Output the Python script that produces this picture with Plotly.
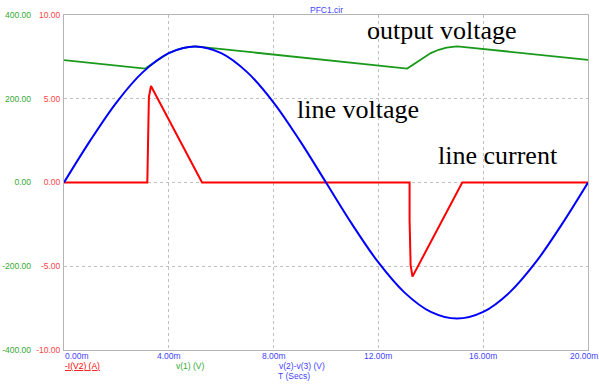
import plotly.graph_objects as go

# ---- data (time in ms) ----
t_line = [0, 1, 2, 3, 4, 5, 6, 7, 8, 9, 10, 11, 12, 13, 14, 15, 16, 17, 18, 19, 20]
v_line = [0, 100, 191, 263, 309, 325, 309, 263, 191, 100, 0, -100, -191, -263, -309, -325, -309, -263, -191, -100, 0]

t_out = [0, 3.1, 3.4, 3.7, 4.0, 4.3, 4.6, 5.0, 5.2, 13.1, 13.4, 13.7, 14.0, 14.3, 14.6, 15.0, 15.2, 20]
v_out = [292, 272, 285, 298, 309, 317, 322, 325, 324, 272, 285, 298, 309, 317, 322, 325, 324, 293]

t_cur = [0, 3.18, 3.19, 3.24, 3.32, 5.27, 13.19, 13.19, 13.23, 13.30, 15.2, 20]
i_cur = [0, 0, 0.86, 5.1, 5.76, 0, 0, -2.24, -4.93, -5.62, 0, 0]

x_ticks = [0, 4, 8, 12, 16, 20]
x_ticktext = ["0.00m", "4.00m", "8.00m", "12.00m", "16.00m", "20.00m"]
i_ticks = [-10, -5, 0, 5, 10]
i_ticktext = ["-10.00", "-5.00", "0.00", "5.00", "10.00"]
v_ticks = [-400, -200, 0, 200, 400]
v_ticktext = ["-400.00", "-200.00", "0.00", "200.00", "400.00"]

# ---- layout geometry ----
W, H = 599, 385
L, R, T, B = 64, 588, 15, 350


def xp(px):
    return (px - L) / (R - L)


def yp(py):
    return (B - py) / (B - T)


GREEN = "#1a9a1a"
BLUE = "#0000ff"
RED = "#ff0000"
SMALL = dict(family="Liberation Sans, Arial", size=8.5)

fig = go.Figure()
fig.add_trace(go.Scatter(x=t_out, y=v_out, yaxis="y2", mode="lines",
                         line=dict(color=GREEN, width=1.8), showlegend=False))
fig.add_trace(go.Scatter(x=t_cur, y=i_cur, yaxis="y", mode="lines",
                         line=dict(color=RED, width=2), showlegend=False))
fig.add_trace(go.Scatter(x=t_line, y=v_line, yaxis="y2", mode="lines",
                         line=dict(color=BLUE, width=2, shape="spline"), showlegend=False))

ann = []
for v, txt in zip(x_ticks, x_ticktext):
    if v == x_ticks[0]:
        pos = dict(x=v, xref="x", xanchor="left")
    elif v == x_ticks[-1]:
        pos = dict(x=xp(599), xref="paper", xanchor="right")
    else:
        pos = dict(x=v, xref="x", xanchor="center")
    ann.append(dict(pos, y=yp(356), yref="paper", text=txt, showarrow=False,
                    yanchor="middle", borderpad=0, font=dict(SMALL, color="#4444ff")))

bottom_labels = [
    ("<u>-I(V2) (A)</u>", 63, 366.5, RED),
    ("v(1) (V)", 174, 366, "#33aa33"),
    ("v(2)-v(3) (V)", 277, 366, "#4444ff"),
    ("T (Secs)", 276, 375.5, "#4444ff"),
]
for txt, x0, y0, c in bottom_labels:
    ann.append(dict(x=xp(x0), xref="paper", y=yp(y0), yref="paper", text=txt, showarrow=False,
                    xanchor="left", yanchor="middle", font=dict(SMALL, color=c)))

ann.append(dict(x=xp(326), xref="paper", y=yp(9.5), yref="paper", text="PFC1.cir", showarrow=False,
                xanchor="center", yanchor="middle", font=dict(SMALL, color="#4444ff")))

SERIF = dict(family="Liberation Serif, Times New Roman", size=26, color="black")
for txt, x0, y0 in [("output voltage", 366, 30), ("line voltage", 296, 109), ("line current", 437, 155)]:
    ann.append(dict(x=xp(x0), xref="paper", y=yp(y0), yref="paper", text=txt, showarrow=False,
                    xanchor="left", yanchor="middle", font=SERIF, borderpad=0))

fig.update_layout(
    template="none",
    width=W, height=H,
    margin=dict(l=L, r=W - R, t=T, b=H - B, pad=0),
    paper_bgcolor="white", plot_bgcolor="white",
    showlegend=False,
    annotations=ann,
    xaxis=dict(range=[0, 20], tickvals=x_ticks[1:-1], showticklabels=False, ticks="",
               showgrid=True, gridcolor="#c0c0c0", griddash="dot", gridwidth=1,
               showline=True, mirror=True, linecolor="#b4b4b4", linewidth=1,
               zeroline=False, automargin=False),
    yaxis=dict(range=[-10, 10], tickvals=i_ticks, ticktext=i_ticktext, ticks="",
               tickfont=dict(SMALL, color="#ff4444"), ticklabelstandoff=1,
               showgrid=True, gridcolor="#c0c0c0", griddash="dot", gridwidth=1,
               showline=True, mirror=True, linecolor="#b4b4b4", linewidth=1,
               zeroline=False, automargin=False),
    yaxis2=dict(range=[-400, 400], overlaying="y", side="left", anchor="free", position=0,
                tickvals=v_ticks, ticktext=v_ticktext, ticks="",
                tickfont=dict(SMALL, color="#33aa33"), ticklabelstandoff=33,
                showgrid=False, showline=False, zeroline=False, automargin=False),
)

fig.write_html("out.html")
